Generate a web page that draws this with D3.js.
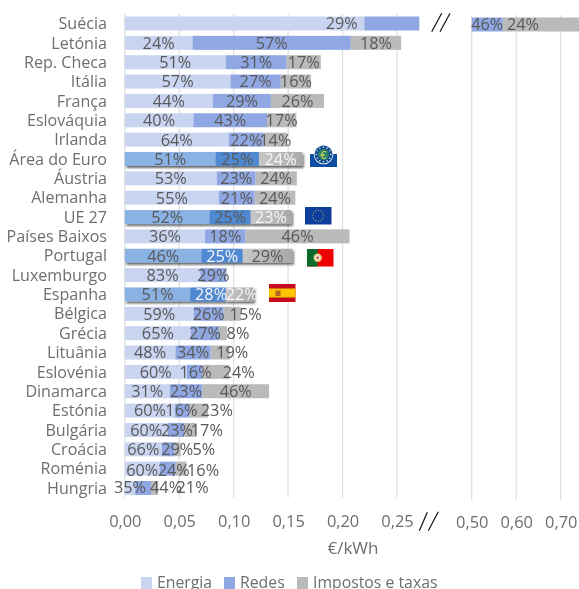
<!DOCTYPE html>
<html><head><meta charset="utf-8">
<script src="https://cdn.jsdelivr.net/npm/d3@7"></script>
<style>
html,body{margin:0;padding:0;background:#fff;overflow:hidden}
svg{filter:blur(0.35px)}
text{font-family:"Open Sans",sans-serif;fill:#595959}
</style></head><body>
<svg id="c" width="579" height="589"></svg>
<script>
const countries=["Suécia","Letónia","Rep. Checa","Itália","França","Eslováquia","Irlanda","Área do Euro","Áustria","Alemanha","UE 27","Países Baixos","Portugal","Luxemburgo","Espanha","Bélgica","Grécia","Lituânia","Eslovénia","Dinamarca","Estónia","Bulgária","Croácia","Roménia","Hungria"];
const energia=[.220,.0622,.0927,.097,.081,.063,.0955,.0835,.0844,.0865,.078,.0737,.0706,.0694,.0603,.0633,.0608,.0465,.0569,.0413,.0462,.0395,.034,.0321,.0095];
const redes=[.35,.1454,.056,.0463,.0532,.0676,.032,.0397,.0358,.0328,.0376,.0373,.0377,.0239,.0324,.0275,.0257,.0324,.0144,.03,.0134,.0151,.0119,.0147,.0146];
const impostos=[.19,.0462,.0313,.0277,.0488,.0269,.0215,.0398,.0378,.0373,.0374,.0954,.0455,0,.0256,.0156,.0074,.0174,.0244,.0612,.0168,.0112,.0055,.0098,.0065];
const pctEnergia=[29,24,51,57,44,40,64,51,53,55,52,36,46,83,51,59,65,48,60,31,60,60,66,60,35];
const pctRedes=[46,57,31,27,29,43,22,25,23,21,25,18,25,29,28,26,27,34,16,23,16,23,29,24,44];
const pctImpostos=[24,18,17,16,26,17,14,24,24,24,23,46,29,null,22,15,8,19,24,46,23,17,5,16,21];
const highlighted=["Área do Euro","UE 27","Portugal","Espanha"];
const ticksLeft=[0,.05,.10,.15,.20,.25];
const ticksRight=[.5,.6,.7];
const legendItems=["Energia","Redes","Impostos e taxas"];

// hand-placed labels: pixel nudges of [redes x, impostos x, row y]
const nudge={"Espanha":[3,2,0],"Bélgica":[0,13.5,0],"Grécia":[0,15,0],"Lituânia":[0,12,0],"Eslovénia":[1,23,0],"Estónia":[-1,18,0],"Bulgária":[1,16.5,0],"Croácia":[9,26,0],"Roménia":[6,22,1.5],"Hungria":[23,38,-1]};

const svg=d3.select("#c");
const defs=svg.append("defs");
const f=defs.append("filter").attr("id","sh").attr("x","-5%").attr("y","-30%").attr("width","112%").attr("height","170%");
f.append("feDropShadow").attr("dx",1.5).attr("dy",2).attr("stdDeviation",1.2).attr("flood-color","#000").attr("flood-opacity",.6);
const gg=defs.append("linearGradient").attr("id","gr").attr("x1",0).attr("x2",1).attr("y1",0).attr("y2",0);
gg.append("stop").attr("offset",0).attr("stop-color","#c6c6c6");
gg.append("stop").attr("offset",1).attr("stop-color","#a9a9a9");

const x=d3.scaleLinear().domain([0,.25]).range([124.8,397]);
const xR=d3.scaleLinear().domain([.5,.7]).range([471.7,560.7]);
const y=d3.scalePoint().domain(countries).range([23.5,488]);
const bh=14;
const breakAt=.2705;
const col={e:"#c9d4f0",r:"#8fa7e2",t:"#bababa",eh:"#8ab2e3",rh:"#4f88d3",th:"url(#gr)"};
const LBL=16.3;

// grid
const grid=svg.append("g").attr("stroke","#e0e0e0").attr("stroke-width",1.3);
grid.selectAll(".l").data(ticksLeft).join("line").attr("x1",d=>x(d)).attr("x2",d=>x(d)).attr("y1",14).attr("y2",497.5);
grid.selectAll(".r").data(ticksRight).join("line").attr("x1",d=>xR(d)).attr("x2",d=>xR(d)).attr("y1",15).attr("y2",500);

const rows=countries.map((c,i)=>({c,i,e:energia[i],r:redes[i],t:impostos[i],hl:highlighted.includes(c)}));
const segs=d=>[[0,d.e,d.hl?col.eh:col.e],[d.e,d.e+d.r,d.hl?col.rh:col.r],[d.e+d.r,d.e+d.r+d.t,d.hl?col.th:col.t]];

// left panel bars
const gL=svg.append("g");
const rowG=gL.selectAll("g").data(rows).join("g").attr("filter",d=>d.hl?"url(#sh)":null);
rowG.selectAll("rect").data(d=>segs(d).map(s=>({s,d}))).join("rect")
  .attr("x",o=>x(o.s[0])).attr("width",o=>Math.max(0,x(Math.min(o.s[1],breakAt))-x(Math.min(o.s[0],breakAt))))
  .attr("y",o=>y(o.d.c)-bh/2).attr("height",bh).attr("fill",o=>o.s[2]);

// right panel bars (broken axis)
const gR=svg.append("g");
const r0=rows[0];
gR.selectAll("rect").data(segs(r0).filter(s=>s[1]>.5)).join("rect")
  .attr("x",s=>xR(Math.max(s[0],.5))).attr("width",s=>Math.min(579,xR(s[1]))-xR(Math.max(s[0],.5)))
  .attr("y",y(r0.c)-bh/2+1).attr("height",bh).attr("fill",s=>s[2]);

// labels
const whiteLabels={"Área do Euro":[0,0,1],"UE 27":[0,0,1],"Portugal":[0,1,0],"Espanha":[0,1,1]};
const lab=svg.append("g").attr("font-size",LBL).attr("text-anchor","middle");
rows.forEach(d=>{
  const n=nudge[d.c]||[0,0,0];
  const w=whiteLabels[d.c]||[0,0,0];
  const yy=y(d.c)+5.9+n[2];
  const put=(xx,p,white)=>lab.append("text").attr("x",xx).attr("y",yy).text(p+"%").style("fill",white?"#f6f6f6":"#595959");
  if(d.i===0){
    put(341.7,pctEnergia[0],0);
    lab.append("text").attr("x",(xR(.5)+xR(d.e+d.r))/2).attr("y",yy+1).text(pctRedes[0]+"%");
    lab.append("text").attr("x",523).attr("y",yy+1).text(pctImpostos[0]+"%");
    return;
  }
  put(x(d.e/2),pctEnergia[d.i],w[0]);
  put(x(d.e+d.r/2)+n[0],pctRedes[d.i],w[1]);
  if(pctImpostos[d.i]!==null) put(x(d.e+d.r+d.t/2)+n[1],pctImpostos[d.i],w[2]);
});

// category axis
const ax=svg.append("g").attr("transform","translate(107,0)").call(d3.axisLeft(y).tickSize(0).tickPadding(0));
ax.select(".domain").remove();
ax.selectAll("text").attr("font-size",16.1).style("fill","#6e6e6e").attr("dy","0.32em");

// value axes
const fmt=d=>d3.format(".2f")(d).replace(".",",");
const a1=svg.append("g").attr("transform","translate(0,516)").call(d3.axisBottom(x).tickValues(ticksLeft).tickFormat(fmt).tickSize(0));
const a2=svg.append("g").attr("transform","translate(0,517)").call(d3.axisBottom(xR).tickValues(ticksRight).tickFormat(fmt).tickSize(0));
[a1,a2].forEach(a=>{a.select(".domain").remove();a.selectAll("text").attr("font-size",16.4).style("fill","#6e6e6e").attr("y",0).attr("dy","0.7em");});

svg.append("text").attr("x",353).attr("y",554).attr("text-anchor","middle").attr("font-size",17).style("fill","#6e6e6e").text("€/kWh");

// legend
const legX=[141,224,297];
const leg=svg.append("g");
legendItems.forEach((t,i)=>{
  leg.append("rect").attr("x",legX[i]).attr("y",577).attr("width",11).attr("height",12).attr("fill",[col.e,col.r,col.t][i]);
  leg.append("text").attr("x",legX[i]+16).attr("y",588).attr("font-size",15.8).style("fill","#6e6e6e").text(t);
});

// axis breaks
const brk=svg.append("g").attr("stroke","#111").attr("stroke-width",1.2);
[[431.7,441.7,31.7,13.3],[440,450,31.7,13.3],[419.3,427.3,530.7,512.3],[428.3,438.3,530.7,511.7]].forEach(b=>{
  brk.append("line").attr("x1",b[0]).attr("x2",b[1]).attr("y1",b[2]).attr("y2",b[3]);
});

// ECB logo
const e=svg.append("g").attr("transform","translate(310,145)");
e.append("rect").attr("x",0).attr("y",9).attr("width",27).attr("height",13).attr("fill","#0b4ea2");
e.append("circle").attr("cx",13.5).attr("cy",9.5).attr("r",9.8).attr("fill","#f4f4f4");
e.append("circle").attr("cx",13.5).attr("cy",9.5).attr("r",9).attr("fill","#0d4a8f");
d3.range(12).forEach(k=>{const a=k*Math.PI/6;e.append("circle").attr("cx",13.5+7.3*Math.cos(a)).attr("cy",9.5+7.3*Math.sin(a)).attr("r",.7).attr("fill","#fff");});
e.append("circle").attr("cx",13.5).attr("cy",9.5).attr("r",5.5).attr("fill","#2f7f6a");
e.append("text").attr("x",13.5).attr("y",13.5).attr("text-anchor","middle").attr("font-size",11).style("fill","#e8e85a").text("€");

// EU flag
const eu=svg.append("g").attr("transform","translate(305,207)");
eu.append("rect").attr("width",26.5).attr("height",17.5).attr("fill","#0f3f9e");
d3.range(12).forEach(k=>{const a=k*Math.PI/6;eu.append("circle").attr("cx",13.25+5.5*Math.cos(a)).attr("cy",8.75+5.5*Math.sin(a)).attr("r",.6).attr("fill","#d8c840");});

// Portugal flag
const pt=svg.append("g").attr("transform","translate(307,249)");
pt.append("rect").attr("width",26.5).attr("height",17.5).attr("fill","#f00000");
pt.append("rect").attr("width",10.7).attr("height",17.5).attr("fill","#0a6a2a");
pt.append("circle").attr("cx",10.7).attr("cy",8.75).attr("r",4.2).attr("fill","#e0d080");
pt.append("circle").attr("cx",10.7).attr("cy",8.75).attr("r",2.4).attr("fill","#f4f0e0");
pt.append("circle").attr("cx",10.7).attr("cy",8.75).attr("r",1.2).attr("fill","#b33");

// Spain flag
const es=svg.append("g").attr("transform","translate(269,284)");
es.append("rect").attr("width",26.5).attr("height",18).attr("fill","#c60b1e");
es.append("rect").attr("y",4.5).attr("width",26.5).attr("height",9).attr("fill","#ffc400");
es.append("rect").attr("x",6.5).attr("y",6.5).attr("width",5).attr("height",5.5).attr("fill","#b5651d");
</script></body></html>
